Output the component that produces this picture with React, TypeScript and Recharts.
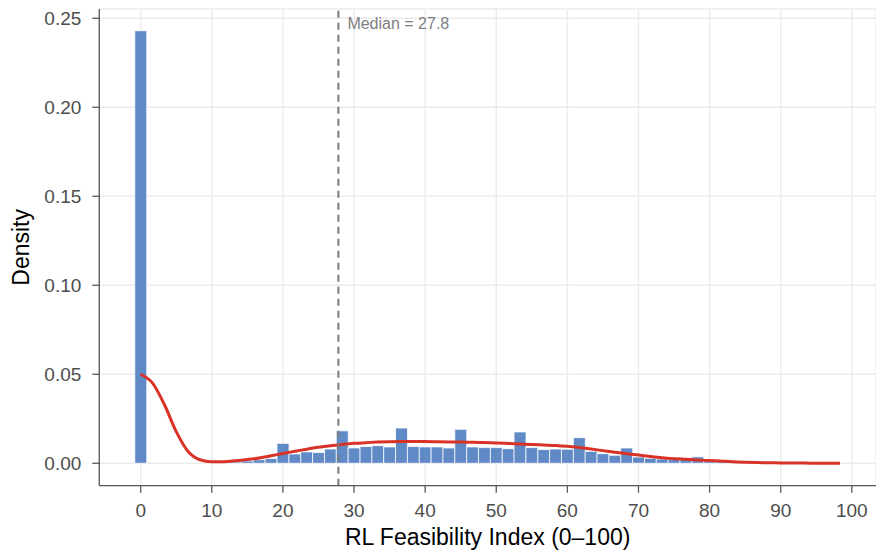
import { ComposedChart, Bar, Line, XAxis, YAxis, CartesianGrid, ReferenceLine } from "recharts";

// bin centres of the histogram (width 100/60), also where the density curve is read
const binCenters = [
  0, 1.67, 3.33, 5, 6.67, 8.33, 10, 11.67, 13.33, 15,
  16.67, 18.33, 20, 21.67, 23.33, 25, 26.67, 28.33, 30, 31.67,
  33.33, 35, 36.67, 38.33, 40, 41.67, 43.33, 45, 46.67, 48.33,
  50, 51.67, 53.33, 55, 56.67, 58.33, 60, 61.67, 63.33, 65,
  66.67, 68.33, 70, 71.67, 73.33, 75, 76.67, 78.33, 80, 81.67,
  83.33, 85, 86.67, 88.33, 90, 91.67, 93.33, 95, 96.67, 98.33,
];

// histogram density per bin (null = no bar)
const histDensity = [
  0.243, 0, 0, 0, 0, 0, 0, 0.0003, 0.0008, 0.0013,
  0.002, 0.0027, 0.0112, 0.0052, 0.0064, 0.006, 0.008, 0.0182, 0.0086, 0.0094,
  0.0099, 0.0092, 0.0198, 0.0094, 0.0092, 0.0092, 0.0086, 0.0191, 0.0092, 0.0088,
  0.0088, 0.0082, 0.0176, 0.0088, 0.0077, 0.008, 0.0079, 0.0144, 0.0067, 0.0054,
  0.0045, 0.0086, 0.0035, 0.0028, 0.0024, 0.0023, 0.0027, 0.0036, 0.002, 0.0016,
  0.001, null, null, null, null, null, null, null, null, null,
];

// kernel density estimate at the same x positions
const kdeDensity = [
  0.05, 0.045, 0.033, 0.0178, 0.0066, 0.002, 0.0009, 0.0009, 0.0014, 0.0021,
  0.003, 0.0042, 0.0055, 0.0067, 0.0079, 0.009, 0.0099, 0.0106, 0.0112, 0.0116,
  0.0119, 0.0121, 0.0122, 0.0122, 0.0122, 0.0121, 0.012, 0.0119, 0.0118, 0.0116,
  0.0114, 0.0111, 0.0108, 0.0105, 0.0103, 0.01, 0.0095, 0.0088, 0.008, 0.0071,
  0.0062, 0.0054, 0.0046, 0.0038, 0.0031, 0.0026, 0.0022, 0.0018, 0.0015, 0.0012,
  0.0009, 0.0006, 0.0004, 0.0003, 0.0002, 0.0001, 0.0001, 0, 0, 0,
];

const xTicks = [0, 10, 20, 30, 40, 50, 60, 70, 80, 90, 100];
const yTicks = [0, 0.05, 0.1, 0.15, 0.2, 0.25];
const medianValue = 27.8;

const rows = binCenters.map((x, i) => ({
  x,
  density: histDensity[i],
  kde: kdeDensity[i],
}));

const tickStyle = { fill: "#4d4d4d", fontSize: 19 };

export default function App() {
  return (
    <div
      style={{
        position: "absolute",
        left: 0,
        top: 0,
        width: 876,
        height: 554,
        background: "#fff",
        fontFamily: '"Liberation Sans", Arial, sans-serif',
      }}
    >
      <ComposedChart
        width={876}
        height={554}
        data={rows}
        margin={{ top: 9, right: 0, bottom: 0, left: 0 }}
        barCategoryGap={0}
        barGap={0}
      >
        <CartesianGrid stroke="#ebebeb" strokeWidth={1.4} />
        <XAxis
          type="number"
          dataKey="x"
          domain={[-5.82, 103.4]}
          allowDataOverflow
          ticks={xTicks}
          height={68.3}
          tick={tickStyle}
          tickSize={7}
          tickMargin={11}
          stroke="#5a5a5a"
          strokeWidth={1.3}
          label={{
            value: "RL Feasibility Index (0–100)",
            position: "insideBottom",
            offset: 9,
            fill: "#000",
            fontSize: 23,
          }}
        />
        <YAxis
          type="number"
          domain={[-0.0126, 0.2552]}
          allowDataOverflow
          ticks={yTicks}
          width={99.3}
          tick={tickStyle}
          tickSize={7}
          tickMargin={11}
          tickFormatter={(v: number) => v.toFixed(2)}
          stroke="#5a5a5a"
          strokeWidth={1.3}
          label={{
            value: "Density",
            angle: -90,
            position: "insideLeft",
            offset: 21,
            fill: "#000",
            fontSize: 23,
            style: { textAnchor: "middle" },
          }}
        />
        <Bar
          dataKey="density"
          fill="#5f8ac6"
          stroke="#ffffff"
          strokeWidth={0.8}
          isAnimationActive={false}
        />
        <Line
          type="monotone"
          dataKey="kde"
          stroke="#d93226"
          strokeWidth={3}
          dot={false}
          activeDot={false}
          isAnimationActive={false}
        />
        <ReferenceLine
          x={medianValue}
          stroke="#7a7a7a"
          strokeWidth={2}
          strokeDasharray="7 5"
          label={{
            value: `Median = ${medianValue}`,
            position: "insideTopLeft",
            offset: 9,
            fill: "#808080",
            fontSize: 16,
          }}
        />
      </ComposedChart>
    </div>
  );
}
